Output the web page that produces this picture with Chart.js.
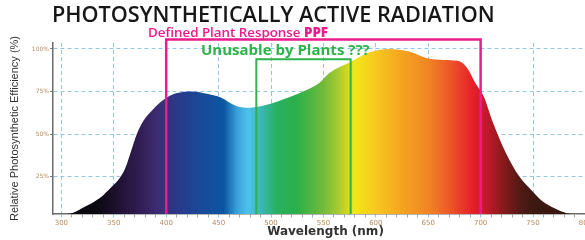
<!DOCTYPE html>
<html>
<head>
<meta charset="utf-8">
<script src="https://cdn.jsdelivr.net/npm/chart.js@4.4.1/dist/chart.umd.min.js"></script>
<style>
  html, body { margin: 0; padding: 0; background: #fff; overflow: hidden; }
  #wrap { position: relative; width: 600px; height: 240px; }
</style>
</head>
<body>
<div id="wrap"><canvas id="parChart" width="600" height="240"></canvas></div>
<script>
// Datos
const wavelengths = [300, 310, 320, 337, 348, 355, 361, 366, 372, 378, 386, 395, 405, 416, 424, 440, 452, 467, 480, 495, 510, 527, 546, 556, 575, 594, 613, 632, 649, 665, 678, 687, 695, 703, 711, 724, 737, 750, 760, 770, 782, 788];
const efficiency  = [3, 3.5, 6.5, 12.5, 19, 23.5, 30, 39, 50, 57.5, 63.5, 69, 73, 74.7, 75, 73.5, 71.5, 66.5, 65.5, 67, 70, 74, 80, 86, 92, 98, 100, 98.5, 94.5, 93.5, 93, 89, 80, 72, 58, 39, 25, 16, 10, 6.5, 3.5, 3];
const xTickLabels = [300, 350, 400, 450, 500, 550, 600, 650, 700, 750, 800];
const yTickLabels = [25, 50, 75, 100];
const ppfBand = [400, 700];
const unusableBand = [486, 576];

// Colores del espectro (nm -> color)
const spectrumNm = [300, 335, 350, 370, 392, 410, 430, 455, 468, 478, 490, 505, 525, 550, 565, 580, 600, 625, 650, 672, 692, 705, 720, 735, 750, 800];
const spectrumColors = ['#08060c', '#0c0812', '#1c0f2c', '#2d1a4c', '#3e2c74', '#2a3888', '#1b4896', '#0a56a2', '#3aa2da', '#4cc2ea', '#3cb8b8', '#28b060', '#2cb04a', '#72ba3a', '#aacc2e', '#f2e618', '#f7c81f', '#f4a420', '#f08524', '#ec5428', '#e6212a', '#c41a28', '#8e1a1e', '#5a1a16', '#3c1912', '#33170f'];

const X_MIN = 292, X_MAX = 812;

const ctx = document.getElementById('parChart').getContext('2d');

function spectrumFill(c) {
    const chart = c.chart;
    const area = chart.chartArea;
    if (!area) return '#333';
    const g = chart.ctx.createLinearGradient(area.left, 0, area.right, 0);
    spectrumNm.forEach((nm, i) => {
        let p = (chart.scales.x.getPixelForValue(nm) - area.left) / (area.right - area.left);
        g.addColorStop(Math.min(1, Math.max(0, p)), spectrumColors[i]);
    });
    return g;
}

function fitFont(c, text, weight, family, width) {
    c.font = weight + ' 100px ' + family;
    return 100 * width / c.measureText(text).width;
}

// Títulos y recuadros
const annotations = {
    id: 'annotations',
    afterDraw(chart) {
        const c = chart.ctx;
        const x = chart.scales.x, y = chart.scales.y;
        const base = chart.chartArea.bottom;
        c.save();

        // recuadro PPF
        c.strokeStyle = '#ec1c8c';
        c.lineWidth = 2.5;
        const px1 = x.getPixelForValue(ppfBand[0]), px2 = x.getPixelForValue(ppfBand[1]);
        const pTop = y.getPixelForValue(105.6);
        c.beginPath();
        c.moveTo(px1, base); c.lineTo(px1, pTop); c.lineTo(px2, pTop); c.lineTo(px2, base);
        c.stroke();

        // recuadro no utilizable
        c.strokeStyle = '#2db34a';
        c.lineWidth = 2;
        const gx1 = x.getPixelForValue(unusableBand[0]), gx2 = x.getPixelForValue(unusableBand[1]);
        const gTop = y.getPixelForValue(94);
        c.beginPath();
        c.moveTo(gx1, base); c.lineTo(gx1, gTop); c.lineTo(gx2, gTop); c.lineTo(gx2, base);
        c.stroke();

        c.textBaseline = 'middle';
        c.textAlign = 'left';

        // título
        const title = 'PHOTOSYNTHETICALLY ACTIVE RADIATION';
        let s = fitFont(c, title, '600', '"Open Sans"', 443);
        c.font = '600 ' + s + 'px "Open Sans"';
        c.fillStyle = '#161616';
        c.fillText(title, 52, 16);

        // Defined Plant Response PPF
        const t1 = 'Defined Plant Response ', t2 = 'PPF';
        c.font = '600 100px "Open Sans"';
        let w1 = c.measureText(t1).width;
        c.font = '800 100px "Open Sans"';
        let w2 = c.measureText(t2).width;
        s = 100 * 180 / (w1 + w2);
        c.fillStyle = '#ec1c8c';
        c.font = '600 ' + s + 'px "Open Sans"';
        c.fillText(t1, 148, 33);
        c.font = '800 ' + s + 'px "Open Sans"';
        c.fillText(t2, 148 + w1 * s / 100, 33);

        // Unusable by Plants ???
        const t3 = 'Unusable by Plants ???';
        s = fitFont(c, t3, '700', '"Open Sans"', 169);
        c.font = '700 ' + s + 'px "Open Sans"';
        c.fillStyle = '#2db34a';
        c.fillText(t3, 201, 51);

        c.restore();
    }
};

const gridBlue = 'rgba(110, 180, 225, 0.75)';

new Chart(ctx, {
    type: 'line',
    data: {
        datasets: [{
            data: wavelengths.map((w, i) => ({ x: w, y: efficiency[i] })),
            fill: 'start',
            backgroundColor: spectrumFill,
            borderWidth: 0,
            pointRadius: 0,
            cubicInterpolationMode: 'monotone'
        }]
    },
    options: {
        responsive: false,
        animation: false,
        layout: { padding: { top: 43, right: 2, left: 0, bottom: 0 } },
        plugins: {
            legend: { display: false },
            tooltip: { enabled: false }
        },
        scales: {
            x: {
                type: 'linear',
                min: X_MIN,
                max: X_MAX,
                z: 1,
                afterBuildTicks: s => {
                    const t = [];
                    xTickLabels.forEach(v => {
                        for (let k = 0; k < 50; k += 10) {
                            if (v + k <= X_MAX) t.push({ value: v + k });
                        }
                    });
                    s.ticks = t;
                },
                afterFit: s => { s.height = 26; },
                grid: {
                    color: c => (c.tick && c.tick.value % 50 === 0) ? gridBlue : 'transparent',
                    lineWidth: 1,
                    tickLength: 5,
                    tickColor: c => (c.tick && c.tick.value % 50 === 0) ? gridBlue : '#9aaab8',
                    tickBorderDash: [3, 2]
                },
                border: { color: '#6b6b6b', width: 1.5, dash: [4, 3] },
                ticks: {
                    autoSkip: false,
                    maxRotation: 0,
                    padding: 0,
                    color: '#b48c5e',
                    font: { family: '"DejaVu Sans"', size: 7 },
                    callback: v => v % 50 === 0 ? String(v) : ''
                },
                title: {
                    display: true,
                    text: 'Wavelength (nm)',
                    color: '#333333',
                    font: { family: '"DejaVu Sans"', size: 12, weight: 'bold' },
                    padding: { top: 0, bottom: 1 }
                }
            },
            y: {
                min: 3,
                max: 103.5,
                z: 1,
                afterBuildTicks: s => { s.ticks = yTickLabels.map(v => ({ value: v })); },
                afterFit: s => { s.width = 53; },
                grid: {
                    color: gridBlue,
                    lineWidth: 1,
                    tickLength: 3,
                    tickColor: '#777777'
                },
                border: { color: '#6b6b6b', width: 1.5, dash: [4, 3] },
                ticks: {
                    padding: 1,
                    color: '#b48c5e',
                    font: { family: '"DejaVu Sans"', size: 6 },
                    callback: v => v + '%'
                },
                title: {
                    display: true,
                    text: 'Relative Photosynthetic Efficiency (%)',
                    color: '#333333',
                    font: { family: '"Liberation Sans Narrow", "Liberation Sans"', size: 11 },
                    padding: { top: 8, bottom: 0 }
                }
            }
        }
    },
    plugins: [annotations]
});
</script>
</body>
</html>
